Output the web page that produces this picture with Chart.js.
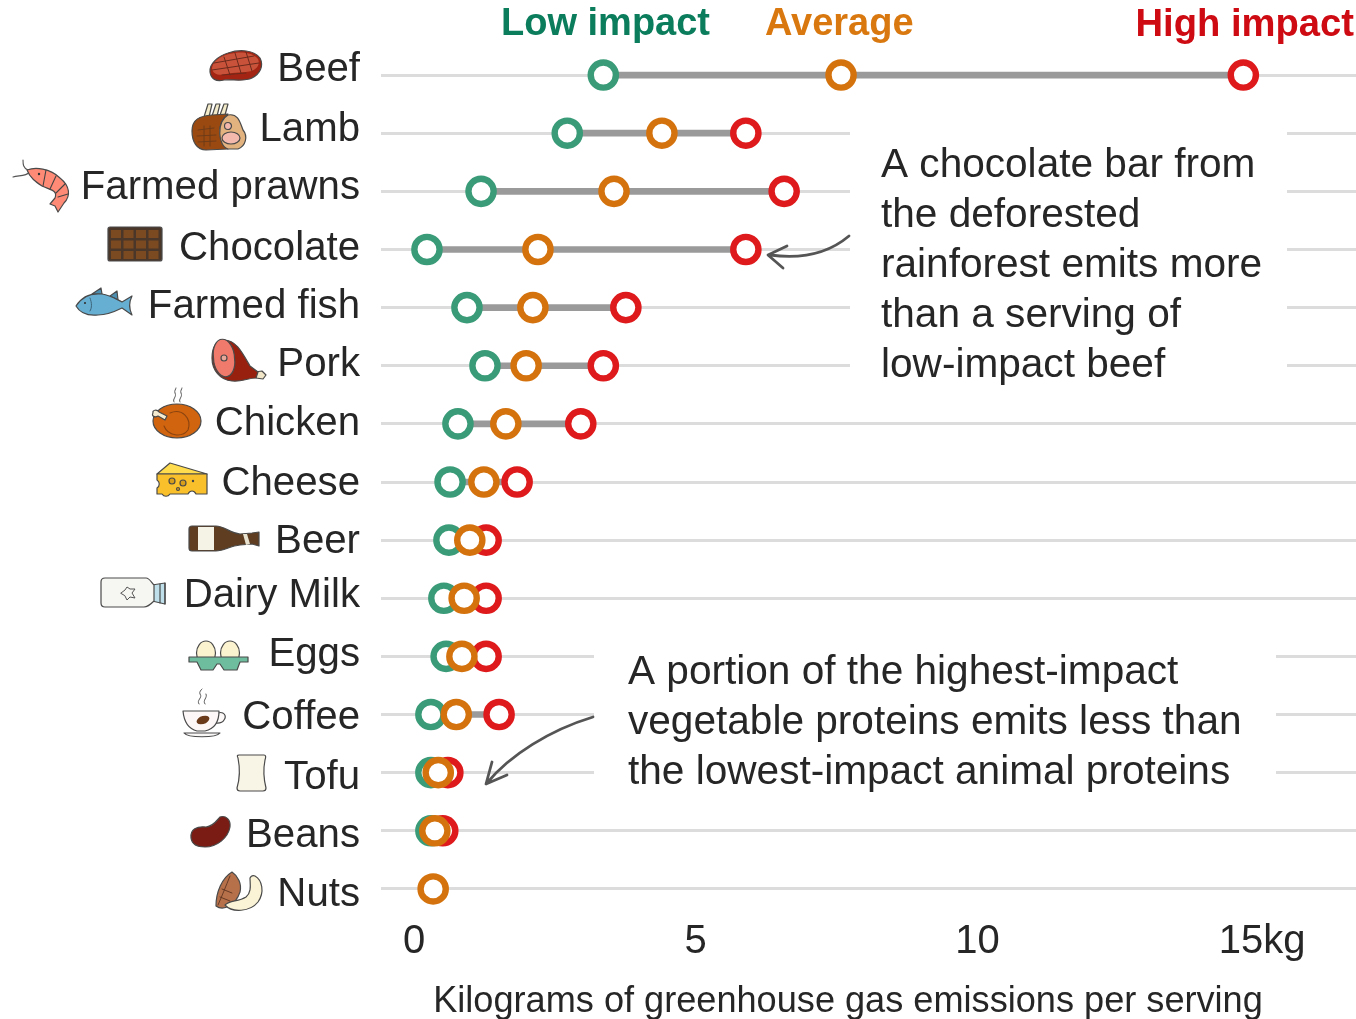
<!DOCTYPE html>
<html><head><meta charset="utf-8">
<style>html,body{margin:0;padding:0;background:#fff}canvas{display:block}</style>
<script src="https://cdn.jsdelivr.net/npm/chart.js@4/dist/chart.umd.min.js"></script>
</head><body><canvas id="c" width="1356" height="1019"></canvas>
<script>
const categories=["Beef","Lamb","Farmed prawns","Chocolate","Farmed fish","Pork","Chicken","Cheese","Beer","Dairy Milk","Eggs","Coffee","Tofu","Beans","Nuts"];
const lowImpact=[3.36,2.72,1.19,0.23,0.94,1.26,0.78,0.64,0.62,0.53,0.57,0.30,0.30,0.30,null];
const average=[7.58,4.40,3.55,2.20,2.11,1.99,1.63,1.24,0.99,0.89,0.85,0.75,0.43,0.37,0.34];
const highImpact=[14.72,5.89,6.57,5.89,3.76,3.36,2.96,1.83,1.28,1.28,1.28,1.51,0.60,0.51,null];
const seriesNames=["Low impact","Average","High impact"];
const xTickValues=[0,5,10,15];
const xTickLabels=["0","5","10","15kg"];
const axisTitle="Kilograms of greenhouse gas emissions per serving";
const note1=["A chocolate bar from","the deforested","rainforest emits more","than a serving of","low-impact beef"];
const note2=["A portion of the highest-impact","vegetable proteins emits less than","the lowest-impact animal proteins"];
const labelShift=[-5,-3,-3,-1,-1,-1,0,2,2,-2,-1,3,5,5,6];
const FONT='"Liberation Sans", Arial, sans-serif', INK='#262626', OUT='#4a4a4a';

function shape(ctx,fill,d,stroke,lw){const p=new Path2D(d);if(fill){ctx.fillStyle=fill;ctx.fill(p);}if(stroke!==null){ctx.strokeStyle=stroke||OUT;ctx.lineWidth=lw||1.2;ctx.stroke(p);}}
function oval(x,y,rx,ry,r){return `M${x+rx} ${y}A${rx} ${ry} ${r||0} 1 1 ${x-rx} ${y}A${rx} ${ry} ${r||0} 1 1 ${x+rx} ${y}Z`;}
function drawIcons(ctx){
 ctx.save();ctx.lineJoin='round';ctx.lineCap='round';
 // beef
 shape(ctx,'#A32412','M210 72C209 64 218 56 228 53C240 49 254 50 260 58C264 66 260 74 252 78C244 82 232 79 224 80C216 82 211 79 210 72Z');
 shape(ctx,'#C9533A','M212 69C212 62 220 56 229 54C240 51 253 52 258 59C260 64 258 68 252 71C244 73 234 72 226 74C219 76 213 74 212 69Z',null);
 shape(ctx,null,'M214 63L254 56M212 70L259 63M222 75L246 73M224 57L230 75M235 53L241 73M246 52L252 71','#6b2a1c',1);
 // lamb
 ['M204 117L208 104L212 104L209 117Z','M212 116L216 104L220 104L217 116Z','M220 115L224 104L228 104L225 115Z'].forEach(d=>shape(ctx,'#F2EAC8',d));
 shape(ctx,'#9A4A10','M192 131C192 119 200 116 212 115L228 114C216 125 218 140 228 149L206 150C197 150 192 142 192 131Z');
 shape(ctx,null,'M198 130L214 128M197 136L216 135M198 142L216 141M204 126L204 146M210 126L210 146','#6b3a1a',0.9);
 shape(ctx,'#E2B27F','M228 115C238 113 240 122 243 130C248 136 246 146 238 149L228 149C218 146 216 122 228 115Z');
 shape(ctx,'#F3B9AD',oval(231,138,9,6));shape(ctx,'#F3B9AD',oval(228,126,3.5,3.5));
 // prawn
 shape(ctx,null,'M30 172C25 177 18 175 13 177M28 170C23 168 23 164 23 160','#555',1.1);
 shape(ctx,'#FF8A75','M27 170C35 167 50 168 60 178C70 186 71 196 64 203L58 212L55 206L50 204L55 198C58 190 50 190 42 186C36 182 30 178 27 170Z');
 shape(ctx,null,'M46 170L43 186M56 176L50 189M65 184L56 193M68 194L58 197','#444',1.1);
 shape(ctx,'#333',oval(39,174,1.2,1.2),null);
 // chocolate
 shape(ctx,'#4B3729','M110 227H160Q162 227 162 229V259Q162 261 160 261H110Q108 261 108 259V229Q108 227 110 227Z');
 for(let r=0;r<3;r++)for(let c=0;c<4;c++){ctx.fillStyle='#7C4A20';ctx.fillRect(111+c*12.5,230+r*10.5,10,8);}
 // fish
 shape(ctx,'#4d8fb0','M92 294L101 288L102 294ZM110 296L117 291L118 300Z');
 shape(ctx,'#66AFD3','M76 306C82 296 92 293 102 294C110 295 116 299 122 302L132 296C129 302 129 309 132 315L122 308C114 312 106 315 98 315C88 316 80 313 76 306Z');
 shape(ctx,'#333',oval(85,303,1.1,1.1),null);shape(ctx,null,'M90 298C92 303 92 308 90 311','#3d6478',1);
 // pork
 shape(ctx,'#F2E6C8','M255 372L262 371L266 375L263 379L256 378Z');
 shape(ctx,'#97200E','M224 340C236 340 242 352 250 366L258 372L256 378C248 378 242 382 232 381C220 380 212 370 212 358C212 348 216 340 224 340Z');
 shape(ctx,'#F07A6C',oval(224,358,10.5,17,-8));shape(ctx,'#E9A79A',oval(224,358,3,3));
 // chicken
 shape(ctx,null,'M174 402C172 399 177 397 175 393C174 391 176 389 176 388M180 402C178 399 183 397 181 393C180 391 182 389 182 388','#555',1);
 shape(ctx,'#D0640F',oval(177,421,24,17));
 shape(ctx,null,'M170 413C182 408 192 418 188 430C182 438 168 436 164 426','#8a4410',1.1);
 shape(ctx,'#F5EBD0','M165 420L158 416C155 418 151 416 153 413C152 410 157 409 159 412L167 416Z');
 // cheese
 shape(ctx,'#FFDB4E','M157 474L170 463L207 474Z');
 shape(ctx,'#F9C02B','M157 474H207V494H196C194 490 190 490 188 494H170C168 497 164 497 162 494H157V488C160 486 160 482 157 480Z');
 shape(ctx,'#D99E1A',oval(172,481,3,3));shape(ctx,'#D99E1A',oval(183,483,3,3));shape(ctx,'#444',oval(193,481,1.2,1.2),null);shape(ctx,'#D99E1A',oval(178,489,1.5,1.5));
 // beer
 shape(ctx,'#5F3D20','M192 526H216C224 526 230 533 240 534L252 533L259 532V546L252 544L240 545C230 546 224 551 216 551H192Q189 551 189 548V529Q189 526 192 526Z');
 ctx.fillStyle='#F5F3E6';ctx.fillRect(198,527,16,23);
 shape(ctx,'#E8E2D0','M243 534L247 534L250 544L246 545Z',null);
 // milk
 shape(ctx,'#BFE0EA','M152 585L165 583V604L152 601Z');
 shape(ctx,'#F6F6F3','M105 578H146C150 578 152 584 154 585V601C152 603 148 607 144 607H105Q101 607 101 603V582Q101 578 105 578Z');
 shape(ctx,null,'M165 583V604M160 584V603','#4a4a4a',1.2);
 shape(ctx,null,'M121 593L125 590L127 587L130 589L135 589L132 593L135 598L130 597L127 600L125 596Z','#555',1);
 // eggs
 shape(ctx,'#FBF3D0',oval(206,653,9.5,12));shape(ctx,'#FBF3D0',oval(230,653,9.5,12));
 shape(ctx,'#6FBD9F','M189 657H248V662H240L237 670H224L220 664H217L213 670H201L197 662H189Z');
 // coffee
 shape(ctx,null,'M199 704C196 700 203 698 200 694C199 692 201 690 202 689M205 704C202 700 208 698 206 694','#555',1);
 shape(ctx,'#FDF9F9','M218 713C224 711 227 716 224 720C222 724 218 723 215 723','#4a4a4a');
 shape(ctx,'#FDF7F7','M183 711H219C219 722 214 729 205 731H197C189 729 184 722 183 711Z');
 shape(ctx,'#FAF7F7','M184 733H220C216 738 188 738 184 733Z');
 shape(ctx,'#6A3A1A',oval(203,720,6,3.4,-20),null);
 // tofu
 shape(ctx,'#F8F5E6','M239 755H264C266 755 266 757 265 760C263 770 264 780 266 788C266 790 265 791 263 791H240C238 791 237 790 237 788C240 778 240 768 238 758C237 756 237 755 239 755Z');
 // bean
 shape(ctx,'#7B1C14','M191 838C190 829 197 826 206 827C214 826 217 820 220 817C226 815 231 820 230 827C228 838 217 847 205 847C197 847 192 845 191 838Z');
 // nuts
 shape(ctx,'#B7714A','M232 872C222 878 216 892 216 906C224 912 236 904 240 892C242 884 238 876 232 872Z');
 shape(ctx,null,'M230 876C226 886 222 896 218 905M222 889L232 893M220 897L230 901','#5e3420',0.9);
 shape(ctx,'#FBF3D5','M255 876C262 880 265 892 258 902C250 912 232 913 225 905C230 900 238 902 246 897C252 892 250 884 250 878C251 876 253 875 255 876Z');
 ctx.restore();
}
function arrow(ctx,d){const p=new Path2D(d);ctx.save();ctx.strokeStyle='#555';ctx.lineWidth=2.8;ctx.lineCap='round';ctx.lineJoin='round';ctx.stroke(p);ctx.restore();}

const decor={id:'decor',
 afterLayout(chart){
  const apply=(scale,f)=>{scale.getLabelItems(chart.chartArea).forEach((it,i)=>f(it,i));};
  apply(chart.scales.y,(it,i)=>{it.options.translation[1]+=labelShift[i];});
  apply(chart.scales.x,(it,i)=>{if(i===xTickValues.length-1)it.options.translation[0]+=3;});
 },
 beforeDatasetsDraw(chart){const c=chart.ctx;c.save();c.fillStyle='#fff';c.fillRect(850,105,437,282);c.fillRect(594,635,682,155);c.restore();},
 afterDraw(chart){const c=chart.ctx;c.save();c.textBaseline='middle';
  c.font='bold 38px '+FONT;
  c.textAlign='left';c.fillStyle='#0B7D5C';c.fillText(seriesNames[0],501,25);
  c.fillStyle='#D9780F';c.fillText(seriesNames[1],765,25);
  c.textAlign='right';c.fillStyle='#CE0A12';c.font='bold 38.2px '+FONT;c.fillText(seriesNames[2],1354,25);
  c.textAlign='left';c.fillStyle=INK;c.font='40.6px '+FONT;
  note1.forEach((t,i)=>c.fillText(t,881,166+i*50));
  note2.forEach((t,i)=>c.fillText(t,628,673+i*50));
  c.textAlign='center';c.font='36.15px '+FONT;c.fillText(axisTitle,848,1002);
  c.restore();
  arrow(c,'M849 236C830 252 806 260 770 255M787 246L768 255L783 268');
  arrow(c,'M593 717C550 730 510 755 487 783M492 762L486 784L507 775');
  drawIcons(c);
 }};

const ring=(label,data,color,order)=>({type:'line',label,data,showLine:false,pointRadius:12.6,pointHoverRadius:12.6,pointBorderWidth:6.4,pointBorderColor:color,pointBackgroundColor:'#fff',order});
new Chart(document.getElementById('c'),{
 type:'bar',
 data:{labels:categories,datasets:[
  {type:'bar',label:'Range',data:lowImpact.map((v,i)=>v===null?null:[v,highImpact[i]]),backgroundColor:'#9a9a9a',barThickness:6,order:3},
  ring(seriesNames[0],lowImpact,'#3A9B78',2),
  ring(seriesNames[2],highImpact,'#DE1A1C',1),
  ring(seriesNames[1],average,'#D4730E',0)
 ]},
 options:{indexAxis:'y',responsive:false,animation:false,
  layout:{autoPadding:false,padding:{top:46,left:0,right:0,bottom:0}},
  plugins:{legend:{display:false},tooltip:{enabled:false},title:{display:false}},
  scales:{
   x:{type:'linear',min:-0.586,max:16.72,position:'bottom',
    afterBuildTicks(s){s.ticks=xTickValues.map(v=>({value:v}));},
    afterFit(s){s.height=101;s.paddingLeft=0;s.paddingRight=0;},
    grid:{display:false},border:{display:false},
    ticks:{autoSkip:false,maxRotation:0,padding:-4,color:INK,font:{family:FONT,size:40,lineHeight:1},callback:(v,i)=>xTickLabels[i]}},
   y:{type:'category',offset:true,position:'left',
    afterFit(s){s.width=381;s.paddingTop=0;s.paddingBottom=0;},
    grid:{display:true,offset:false,color:'#dcdcdc',lineWidth:3,drawTicks:false},border:{display:false},
    ticks:{autoSkip:false,padding:21,color:INK,font:{family:FONT,size:40.2}}}
  }},
 plugins:[decor]
});
</script></body></html>
